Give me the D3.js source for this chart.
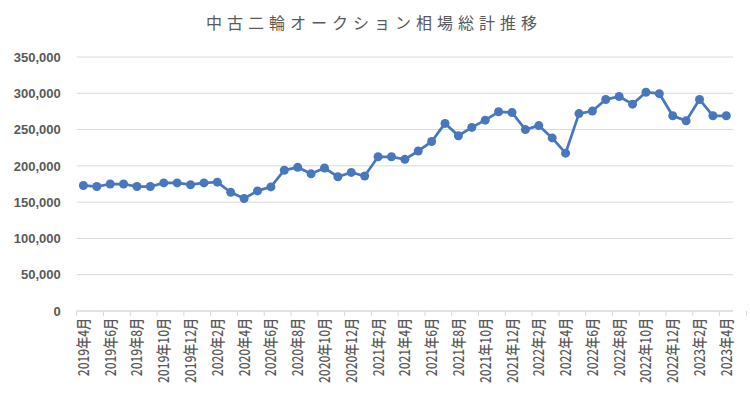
<!DOCTYPE html>
<html>
<head>
<meta charset="utf-8">
<script src="https://cdn.jsdelivr.net/npm/d3@7"></script>
<style>
body { margin:0; background:#fff; }
</style>
</head>
<body>
<div id="plot"></div>
<script>
// chart data, one value per month from 2019年4月 to 2023年4月
var months = [];
for (var y = 2019, m = 4; y < 2023 || (y == 2023 && m <= 4); m++) {
	if (m > 12) { m = 1; y++; }
	months.push(y + '年' + m + '月');
}
var values = [
	173000, 171500, 175000, 175000, 171500, 171500, 176500, 176500, 174000, 176500,
	177500, 163500, 155000, 165500, 171000, 194000, 198000, 189000, 197000, 185000,
	191000, 186000, 212500, 212500, 209000, 220500, 233500, 258500, 241500, 253000,
	263000, 274500, 273500, 250000, 255500, 238500, 217500, 272000, 275500, 291500,
	295500, 285000, 301500, 299500, 269000, 262000, 291500, 269000, 269000
];
var yTicks = [0, 50000, 100000, 150000, 200000, 250000, 300000, 350000];
var title = '中古二輪オークション相場総計推移';

var W = 750, H = 398;
var margin = {t:57, r:17, b:87, l:76.7};
var width = W - margin.l - margin.r,
	height = H - margin.t - margin.b;

var svg = d3.select('#plot')
	.append('svg')
	.attr('width', W)
	.attr('height', H);

svg.append('text')
	.attr('x', 374)
	.attr('y', 29)
	.attr('text-anchor', 'middle')
	.style('font-family', '"Noto Sans CJK JP", sans-serif')
	.style('font-size', '16px')
	.style('letter-spacing', '5px')
	.style('fill', '#595959')
	.text(title);

var plot = svg.append('g')
	.attr('transform', 'translate(' + margin.l + ',' + margin.t + ')');

var x = d3.scaleBand().domain(months).range([0, width]);
var y = d3.scaleLinear().domain([0, 350000]).range([height, 0]);

// gridlines
plot.selectAll('.grid')
	.data(yTicks)
	.enter()
	.append('line')
	.attr('class', 'grid')
	.attr('x1', 0)
	.attr('x2', width)
	.attr('y1', function (d) { return y(d); })
	.attr('y2', function (d) { return y(d); })
	.style('stroke', '#d9d9d9')
	.style('stroke-width', 1);

// y labels
var yAxis = plot.append('g')
	.call(d3.axisLeft(y).tickValues(yTicks).tickSize(0).tickPadding(16)
		.tickFormat(d3.format(',')));
yAxis.select('.domain').remove();
yAxis.selectAll('text')
	.style('font-family', '"Liberation Sans", Arial, sans-serif')
	.style('font-size', '13px')
	.style('font-weight', 'bold')
	.style('fill', '#595959');

// x axis with ticks every two months
var tickMonths = months.filter(function (d, i) { return i % 2 == 0; });
var xAxisG = plot.append('g')
	.attr('transform', 'translate(0,' + height + ')');
xAxisG.append('line')
	.attr('x1', 0).attr('x2', width)
	.style('stroke', '#d9d9d9');
xAxisG.selectAll('.tick')
	.data(tickMonths.concat(['end']))
	.enter()
	.append('line')
	.attr('x1', function (d, i) { return i * 2 * x.step(); })
	.attr('x2', function (d, i) { return i * 2 * x.step(); })
	.attr('y1', 0)
	.attr('y2', 5)
	.style('stroke', '#d9d9d9');
xAxisG.selectAll('.xlabel')
	.data(tickMonths)
	.enter()
	.append('text')
	.attr('class', 'xlabel')
	.attr('transform', function (d) {
		return 'translate(' + (x(d) + x.bandwidth() / 2 + 5.5) + ',7) rotate(-90) scale(0.8,1)';
	})
	.attr('text-anchor', 'end')
	.style('font-family', '"Noto Sans CJK JP", sans-serif')
	.style('font-size', '15px')
	.style('font-weight', 500)
	.style('fill', '#595959')
	.text(function (d) { return d; });

// line + markers
var line = d3.line()
	.x(function (d, i) { return x(months[i]) + x.bandwidth() / 2; })
	.y(function (d) { return y(d); });

plot.append('path')
	.datum(values)
	.attr('d', line)
	.style('fill', 'none')
	.style('stroke', '#4778be')
	.style('stroke-width', 2.75);

plot.selectAll('.dot')
	.data(values)
	.enter()
	.append('circle')
	.attr('class', 'dot')
	.attr('cx', function (d, i) { return x(months[i]) + x.bandwidth() / 2; })
	.attr('cy', function (d) { return y(d); })
	.attr('r', 4.5)
	.style('fill', '#4778be');
</script>
</body>
</html>
